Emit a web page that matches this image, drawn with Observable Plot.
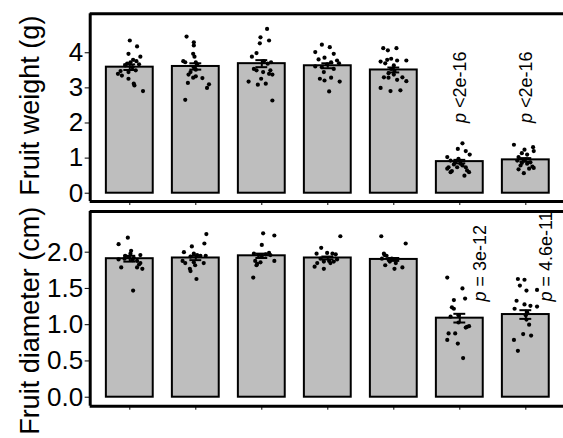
<!DOCTYPE html>
<html><head><meta charset="utf-8">
<script src="https://cdn.jsdelivr.net/npm/d3@7"></script>
<script src="https://cdn.jsdelivr.net/npm/@observablehq/plot@0.6"></script>
<style>
body{margin:0;background:#fff;}
#chart{width:563px;height:438px;overflow:hidden;background:#fff;}
#chart svg{display:block;max-width:none;}
</style>
</head><body><div id="chart"></div>
<script>
const groups = [1, 2, 3, 4, 5, 6, 7];

const weightMeans = [3.59, 3.61, 3.69, 3.63, 3.51, 0.90, 0.95];
const weightSE = [0.08, 0.09, 0.10, 0.07, 0.07, 0.05, 0.05];
const weightTicks = [0, 1, 2, 3, 4];
const weightP = [null, null, null, null, null, "p <2e-16", "p <2e-16"];
const weightPoints = [
  [[0,4.35],[0.11,4.18],[-0.02,3.97],[0.16,3.89],[0.05,3.80],[0.10,3.76],[0.01,3.73],[-0.04,3.69],[-0.07,3.64],[0.04,3.59],[0.14,3.67],[0.09,3.50],[-0.02,3.45],[-0.14,3.48],[-0.18,3.40],[-0.12,3.35],[-0.02,3.26],[0.06,3.12],[0.07,3.07],[0.2,2.91]],
  [[-0.14,4.46],[-0.03,4.30],[-0.03,4.21],[-0.04,3.97],[-0.02,3.89],[-0.16,3.73],[0,3.73],[0.02,3.67],[-0.03,3.59],[0,3.52],[-0.08,3.45],[-0.11,3.38],[0,3.33],[-0.04,3.29],[0.1,3.28],[-0.12,3.14],[0.2,3.10],[0.17,3.00],[-0.16,2.66],[-0.19,3.76]],
  [[0.08,4.68],[-0.02,4.44],[0.11,4.35],[-0.03,4.27],[-0.08,3.99],[-0.15,3.89],[0.03,3.76],[0.14,3.73],[0.09,3.69],[-0.12,3.54],[-0.08,3.50],[0.13,3.50],[0.02,3.45],[0.16,3.38],[0.11,3.40],[-0.01,3.26],[-0.2,3.18],[0.06,3.12],[-0.06,3.09],[0.16,2.64]],
  [[-0.09,4.23],[0.03,4.16],[-0.19,4.02],[0.09,3.97],[-0.05,3.86],[-0.14,3.81],[0.14,3.78],[0.05,3.73],[-0.01,3.67],[0.17,3.70],[-0.19,3.61],[-0.09,3.59],[0.09,3.54],[-0.06,3.45],[-0.12,3.26],[-0.05,3.21],[0.05,3.29],[0.18,3.18],[0.02,2.90]],
  [[-0.16,4.13],[-0.09,4.07],[0.04,4.13],[-0.2,3.75],[-0.1,3.80],[-0.04,3.83],[0.05,3.78],[0.19,3.78],[-0.13,3.70],[0,3.64],[-0.04,3.54],[0.01,3.48],[-0.15,3.30],[-0.08,3.29],[0.13,3.30],[0.05,3.23],[0.19,3.19],[-0.2,3.00],[-0.05,2.91],[0.1,2.93],[0,3.38],[-0.08,3.42]],
  [[0.04,1.42],[-0.03,1.26],[0.09,1.20],[0.15,1.10],[-0.19,1.03],[-0.14,0.93],[-0.07,0.88],[0.04,0.79],[-0.19,0.70],[-0.12,0.63],[0.11,0.65],[-0.04,0.74],[0.07,0.50],[0.14,0.60],[-0.14,0.60],[-0.09,0.82],[-0.02,0.98],[0.01,0.84],[-0.17,0.74],[0.09,0.74]],
  [[-0.18,1.38],[0.11,1.31],[-0.02,1.24],[0.12,1.20],[-0.06,1.14],[0.02,1.10],[-0.11,1.03],[-0.03,0.93],[0.07,0.88],[0.02,0.84],[-0.08,0.79],[0.12,0.72],[0.05,0.70],[-0.11,0.68],[-0.03,0.57],[0.1,0.76],[-0.06,0.86],[-0.13,0.93]]
];

const diamMeans = [1.91, 1.92, 1.95, 1.92, 1.90, 1.09, 1.14];
const diamSE = [0.04, 0.03, 0.03, 0.02, 0.02, 0.06, 0.06];
const diamTicks = [0, 0.5, 1, 1.5, 2];
const diamP = [null, null, null, null, null, "p = 3e-12", "p = 4.6e-11"];
const diamPoints = [
  [[-0.03,2.20],[-0.17,2.11],[0.02,2.02],[-0.07,1.95],[-0.02,1.93],[0.06,1.92],[0.16,1.96],[0.04,1.89],[0.11,1.88],[0.16,1.85],[-0.13,1.79],[0.11,1.79],[0.19,1.77],[0.05,1.47],[-0.08,1.91],[-0.17,1.90],[0.01,1.98],[0.14,1.83]],
  [[0.16,2.25],[0.13,2.12],[-0.06,2.08],[-0.18,2.00],[-0.03,1.98],[0.02,1.96],[-0.08,1.94],[0.07,1.95],[0.15,1.95],[-0.16,1.85],[-0.01,1.82],[0.12,1.85],[-0.09,1.77],[-0.08,1.74],[0.01,1.63],[-0.03,1.86],[-0.2,1.88]],
  [[0.02,2.26],[0.19,2.23],[0,2.10],[-0.12,1.98],[-0.05,1.96],[0.06,1.97],[0.11,1.99],[0,1.95],[-0.1,1.88],[-0.02,1.86],[-0.07,1.84],[0.19,1.88],[-0.13,1.65],[-0.08,1.82],[0.13,1.96]],
  [[0.19,2.22],[-0.1,2.06],[-0.17,1.98],[-0.01,1.99],[0.07,1.98],[0.12,1.97],[0.14,1.90],[-0.11,1.91],[-0.06,1.87],[0.02,1.88],[-0.2,1.80],[-0.06,1.77],[-0.16,1.85],[0.04,1.85],[0.09,1.87]],
  [[-0.19,2.22],[0.18,2.12],[-0.15,1.98],[-0.11,1.95],[-0.18,1.91],[-0.08,1.90],[-0.03,1.91],[0.05,1.90],[-0.13,1.82],[0.01,1.77],[0.13,1.79],[-0.06,1.87],[-0.14,1.96],[0.03,1.85]],
  [[-0.19,1.65],[0.04,1.50],[-0.09,1.34],[0.08,1.36],[-0.12,1.24],[-0.09,1.22],[-0.14,1.11],[-0.02,1.13],[-0.02,1.03],[0.14,0.98],[0.09,0.96],[-0.17,0.88],[-0.07,0.88],[-0.19,0.79],[-0.03,0.74],[0.05,0.54],[0.11,0.97]],
  [[-0.12,1.63],[-0.02,1.62],[-0.09,1.54],[0.01,1.47],[0.17,1.48],[-0.14,1.33],[-0.02,1.28],[-0.17,1.22],[0.07,1.26],[0.17,1.25],[0.01,1.07],[0.05,1.00],[-0.04,0.87],[0.08,0.85],[-0.18,0.79],[-0.12,0.64],[0.02,1.17],[0,1.13]]
];

const FONT = "'Liberation Sans', Arial, Helvetica, sans-serif";

function panel(o) {
  const bars = groups.map((g, i) => ({g, m: o.means[i], se: o.se[i]}));
  const pts = o.points.flatMap((arr, i) => arr.map(([off, v]) => ({x: groups[i] + off, v})));
  const labs = groups.map((g, i) => ({g, t: o.pvals[i]})).filter(d => d.t);
  const yMin = o.yDomain[0], yMax = o.yDomain[1];
  const svg = Plot.plot({
    width: 563, height: o.height,
    marginLeft: 89.7, marginRight: 0, marginTop: o.marginTop, marginBottom: o.marginBottom,
    style: {fontFamily: FONT, fontSize: "26px", color: "black", background: "transparent", overflow: "visible"},
    x: {type: "linear", domain: [0.4, 7.571], ticks: groups, tickSize: 4, tickFormat: () => "", label: null},
    y: {domain: o.yDomain, ticks: o.ticks, tickFormat: o.tickFormat, tickSize: 5, tickPadding: 2, label: null},
    marks: [
      Plot.rectY(bars, {x1: d => d.g - 0.355, x2: d => d.g + 0.355, y1: 0, y2: "m", fill: "#bebebe", stroke: "black", strokeWidth: 2}),
      Plot.dot(pts, {x: "x", y: "v", r: 2.1, fill: "black", stroke: "none"}),
      Plot.ruleX(bars, {x: "g", y1: d => d.m - d.se, y2: d => d.m + d.se, stroke: "black", strokeWidth: 2}),
      Plot.ruleY(bars, {y: d => d.m + d.se, x1: d => d.g - 0.09, x2: d => d.g + 0.09, stroke: "black", strokeWidth: 2}),
      Plot.ruleY(bars, {y: d => d.m - d.se, x1: d => d.g - 0.09, x2: d => d.g + 0.09, stroke: "black", strokeWidth: 2}),
      Plot.text(labs, {x: "g", y: o.pY, text: "t", rotate: -90, textAnchor: "start", lineAnchor: "middle", fontSize: 18, dx: o.pdx, clip: true, fill: "black"}),
      Plot.ruleX([0.4], {y1: yMin, y2: yMax, stroke: "black", strokeWidth: 3}),
      Plot.ruleY([yMin, yMax], {stroke: "black", strokeWidth: 3}),
      Plot.text([o.title], {frameAnchor: "left", dx: -59.7, dy: o.titleDy, rotate: -90, textAnchor: "middle", lineAnchor: "middle", fontSize: 27, fill: "black"})
    ]
  });
  const pset = new Set(labs.map(d => d.t));
  d3.select(svg).selectAll("text").filter(function() { return pset.has(this.textContent); }).each(function() {
    const t = this.textContent;
    const s = d3.select(this);
    s.text(null);
    s.append("tspan").attr("font-style", "italic").text(t.slice(0, 1));
    s.append("tspan").text(t.slice(1));
  });
  return svg;
}

const topPanel = panel({
  means: weightMeans, se: weightSE, points: weightPoints, pvals: weightP,
  yDomain: [-0.236, 5.11], ticks: weightTicks, tickFormat: d3.format("d"),
  height: 206, marginTop: 13.3, marginBottom: 5, pY: 2.0, pdx: 0,
  title: "Fruit weight (g)", titleDy: -2
});
const bottomPanel = panel({
  means: diamMeans, se: diamSE, points: diamPoints, pvals: diamP,
  yDomain: [-0.124, 2.561], ticks: diamTicks, tickFormat: d3.format(".1f"),
  height: 232, marginTop: 5, marginBottom: 32.3, pY: 1.32, pdx: 20,
  title: "Fruit diameter (cm)", titleDy: 12
});
document.getElementById("chart").append(topPanel, bottomPanel);
</script>
</body></html>
